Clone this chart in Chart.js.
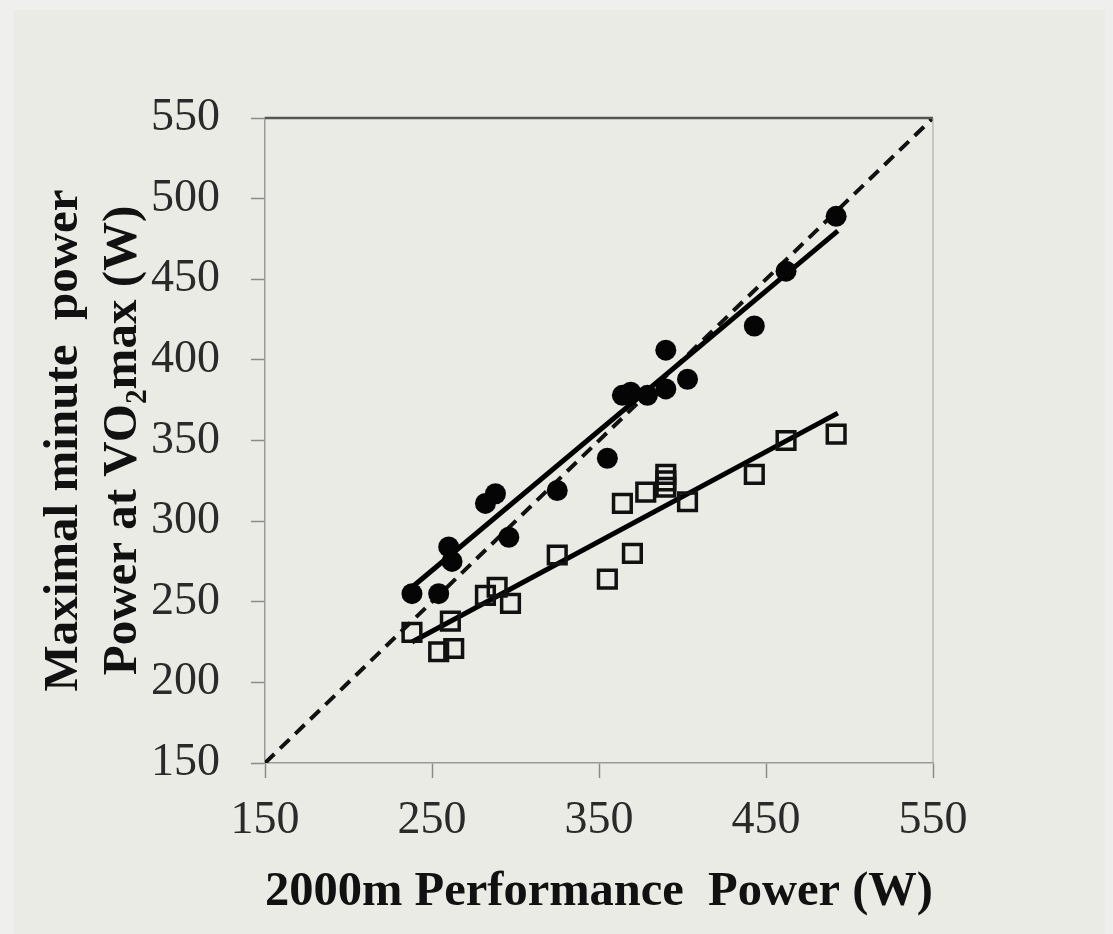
<!DOCTYPE html>
<html>
<head>
<meta charset="utf-8">
<script src="https://cdn.jsdelivr.net/npm/chart.js@4.4.0/dist/chart.umd.min.js"></script>
<style>
  html, body { margin: 0; padding: 0; background: #efefed; }
  canvas { display: block; }
</style>
</head>
<body>
<canvas id="c" width="1113" height="934"></canvas>
<script>
// ---- data ----
const xFilled = [238, 254, 260, 262, 282, 288, 296, 325, 355, 364, 369, 379, 390, 390, 403, 443, 462, 492];
const yFilled = [255, 255, 284, 275, 311, 317, 290, 319, 339, 378, 380, 378, 406, 382, 388, 421, 455, 489];

const xOpen = [238, 254, 263, 261, 282, 289, 297, 325, 355, 370, 364, 378, 390, 390, 390, 403, 443, 462, 492];
const yOpen = [231, 219, 221, 238, 254, 259, 249, 279, 264, 280, 311, 318, 329, 325, 321, 312, 329, 350, 354];

const fitFilledX = [238, 493];
const fitFilledY = [259, 480];
const fitOpenX = [238, 493];
const fitOpenY = [225, 367];
const identityX = [150, 550];
const identityY = [150, 550];

const xTicks = [150, 250, 350, 450, 550];
const yTicks = [150, 200, 250, 300, 350, 400, 450, 500, 550];

const xTitle = '2000m Performance  Power (W)';
const yTitle = ['Maximal minute  power', 'Power at VO\u2082max (W)'];

const pts = (xs, ys) => xs.map((x, i) => ({ x: x, y: ys[i] }));

const SERIF = '"Liberation Serif", "Times New Roman", "DejaVu Serif", serif';

const framePlugin = {
  id: 'frame',
  beforeDraw(chart) {
    const ctx = chart.ctx;
    ctx.save();
    ctx.fillStyle = '#efefed';
    ctx.fillRect(0, 0, chart.width, chart.height);
    ctx.fillStyle = '#ebebe6';
    ctx.fillRect(14, 10, chart.width - 22, chart.height - 10);
    ctx.restore();
  },
  afterDraw(chart) {
    const a = chart.chartArea;
    const ctx = chart.ctx;
    ctx.save();
    ctx.strokeStyle = '#555';
    ctx.lineWidth = 2.5;
    ctx.beginPath();
    ctx.moveTo(a.left, a.top);
    ctx.lineTo(a.right, a.top);
    ctx.stroke();
    ctx.strokeStyle = '#b0b0b0';
    ctx.lineWidth = 1.2;
    ctx.beginPath();
    ctx.moveTo(a.right, a.top);
    ctx.lineTo(a.right, a.bottom);
    ctx.stroke();
    ctx.restore();
  }
};

new Chart(document.getElementById('c'), {
  type: 'scatter',
  data: {
    datasets: [
      {
        type: 'scatter',
        data: pts(xFilled, yFilled),
        pointStyle: 'circle',
        pointRadius: 10.5,
        backgroundColor: '#050505',
        borderColor: '#050505',
        borderWidth: 0,
        order: 0
      },
      {
        type: 'scatter',
        data: pts(xOpen, yOpen),
        pointStyle: 'rect',
        pointRadius: 12.5,
        backgroundColor: 'rgba(0,0,0,0)',
        borderColor: '#111',
        borderWidth: 3.5,
        order: 0
      },
      {
        type: 'line',
        data: pts(identityX, identityY),
        borderColor: '#111',
        borderWidth: 4,
        borderDash: [13, 8],
        pointRadius: 0,
        fill: false,
        order: 2
      },
      {
        type: 'line',
        data: pts(fitFilledX, fitFilledY),
        borderColor: '#000',
        borderWidth: 5,
        pointRadius: 0,
        fill: false,
        order: 1
      },
      {
        type: 'line',
        data: pts(fitOpenX, fitOpenY),
        borderColor: '#000',
        borderWidth: 5,
        pointRadius: 0,
        fill: false,
        order: 1
      }
    ]
  },
  options: {
    responsive: false,
    animation: false,
    events: [],
    layout: { padding: { left: 0, top: 118, right: 180, bottom: 0 } },
    plugins: { legend: { display: false }, tooltip: { enabled: false } },
    scales: {
      x: {
        type: 'linear',
        min: 150, max: 550,
        afterBuildTicks: (s) => { s.ticks = xTicks.map(v => ({ value: v })); },
        afterFit: (s) => { s.height = 171; },
        grid: { drawOnChartArea: false, tickLength: 15, tickColor: '#8a8a8a', tickWidth: 1.5 },
        border: { color: '#9a9a9a', width: 1.5 },
        ticks: {
          color: '#2a2a2a',
          padding: 15,
          maxRotation: 0,
          autoSkip: false,
          font: { family: SERIF, size: 46 }
        },
        title: {
          display: true,
          text: xTitle,
          color: '#111',
          padding: { top: 0, bottom: 12 },
          font: { family: SERIF, size: 49, weight: 'bold' }
        }
      },
      y: {
        type: 'linear',
        min: 150, max: 550,
        afterBuildTicks: (s) => { s.ticks = yTicks.map(v => ({ value: v })); },
        afterFit: (s) => { s.width = 265; },
        grid: { drawOnChartArea: false, tickLength: 14, tickColor: '#8a8a8a', tickWidth: 1.5 },
        border: { color: '#9a9a9a', width: 1.5 },
        ticks: {
          color: '#2a2a2a',
          padding: 31,
          autoSkip: false,
          font: { family: SERIF, size: 46 }
        },
        title: {
          display: true,
          text: yTitle,
          color: '#111',
          padding: { top: 35, bottom: 0 },
          font: { family: SERIF, size: 49, weight: 'bold', lineHeight: 1.2 }
        }
      }
    }
  },
  plugins: [framePlugin]
});
</script>
</body>
</html>
